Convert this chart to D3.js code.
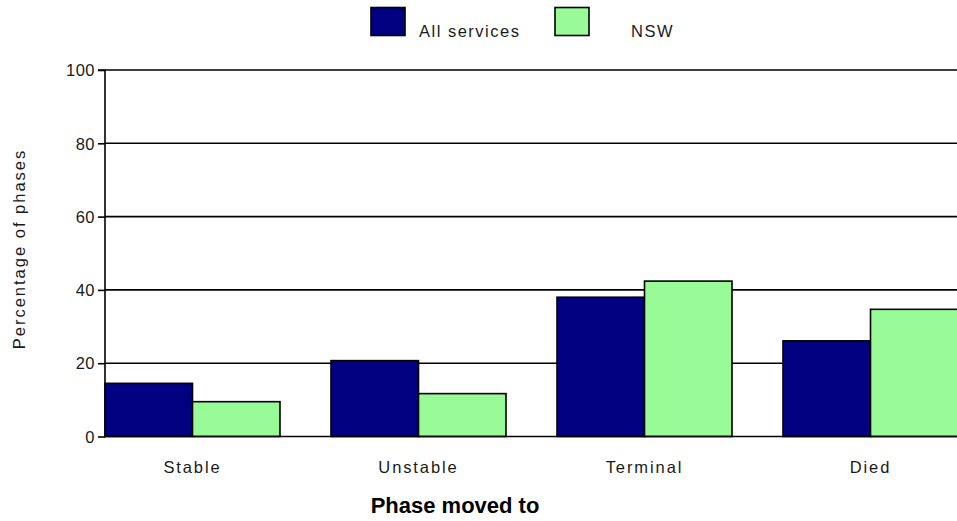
<!DOCTYPE html>
<html>
<head>
<meta charset="utf-8">
<script src="https://cdn.jsdelivr.net/npm/d3@7"></script>
<style>
  html, body { margin: 0; padding: 0; background: #fff; }
  svg { display: block; }
  .small { font-family: "Liberation Sans", Arial, sans-serif; font-size: 16.5px; fill: #1a1a1a; }
</style>
</head>
<body>
<svg id="chart" width="957" height="521"></svg>
<script>
const categories = ["Stable", "Unstable", "Terminal", "Died"];
const seriesNames = ["All services", "NSW"];
const allServices = [14.5, 20.7, 38.0, 26.1];
const nsw = [9.5, 11.7, 42.4, 34.7];
const yTicks = [0, 20, 40, 60, 80, 100];
const colors = ["#000080", "#98FB98"];

(function () {
const svg = d3.select("#chart");
const mLeft = 105, mRight = 957, mTop = 70, mBottom = 436.5;

const y = d3.scaleLinear().domain([0, 100]).range([mBottom, mTop]);
const x0 = d3.scaleBand().domain(categories).range([mLeft, 958]).paddingInner(0.2257).paddingOuter(0);
const x1 = d3.scaleBand().domain(seriesNames).range([0, x0.bandwidth()]);

// gridlines
svg.append("g").selectAll("line").data(yTicks.filter(d => d > 0)).join("line")
  .attr("x1", mLeft).attr("x2", mRight)
  .attr("y1", d => y(d)).attr("y2", d => y(d))
  .attr("stroke", "#000").attr("stroke-width", 1.6);

// bars
const data = categories.map((c, i) => ({ c, vals: [allServices[i], nsw[i]] }));
const g = svg.append("g").selectAll("g").data(data).join("g")
  .attr("transform", d => `translate(${x0(d.c)},0)`);
g.selectAll("rect").data(d => d.vals.map((v, j) => ({ s: seriesNames[j], v, j }))).join("rect")
  .attr("x", d => x1(d.s)).attr("width", x1.bandwidth())
  .attr("y", d => y(d.v)).attr("height", d => y(0) - y(d.v))
  .attr("fill", d => colors[d.j]).attr("stroke", "#000").attr("stroke-width", 1.6);

// y axis
const yAxis = d3.axisLeft(y).tickValues(yTicks).tickSize(7).tickPadding(3);
const ya = svg.append("g").attr("transform", `translate(${mLeft},0)`).call(yAxis);
ya.attr("font-size", null).attr("font-family", null);
ya.select(".domain").attr("stroke", "#000").attr("stroke-width", 1.6).attr("d", `M-7,${mTop}H0V${mBottom}`);
ya.selectAll(".tick line").attr("stroke", "#000").attr("stroke-width", 1.6);
ya.selectAll(".tick text").attr("class", "small").attr("dy", "0.35em").style("letter-spacing", "0.5px");

// x axis baseline
svg.append("line").attr("x1", mLeft).attr("x2", mRight).attr("y1", mBottom).attr("y2", mBottom)
  .attr("stroke", "#000").attr("stroke-width", 1.6);

// x labels
svg.append("g").selectAll("text").data(categories).join("text")
  .attr("class", "small")
  .attr("x", d => x0(d) + x0.bandwidth() / 2).attr("y", 472.5)
  .attr("text-anchor", "middle").style("letter-spacing", "1.9px")
  .text(d => d);

// axis titles
svg.append("text").attr("class", "small")
  .attr("transform", "translate(25,249) rotate(-90)")
  .attr("text-anchor", "middle").style("letter-spacing", "2px")
  .text("Percentage of phases");

svg.append("text")
  .attr("x", 455).attr("y", 513)
  .attr("text-anchor", "middle")
  .style("font-family", "'Liberation Sans', Arial, sans-serif")
  .style("font-size", "22px").style("font-weight", "bold").attr("fill", "#000")
  .text("Phase moved to");

// legend
const legendX = [371, 555];
const legendTextX = [419, 631];
const lg = svg.append("g").selectAll("g").data(seriesNames).join("g");
lg.append("rect").attr("x", (d, i) => legendX[i]).attr("y", 7.5).attr("width", 34).attr("height", 28)
  .attr("fill", (d, i) => colors[i]).attr("stroke", "#000").attr("stroke-width", 1.6);
lg.append("text").attr("class", "small")
  .attr("x", (d, i) => legendTextX[i]).attr("y", 37)
  .style("letter-spacing", "1.5px")
  .text(d => d);
})();
</script>
</body>
</html>
